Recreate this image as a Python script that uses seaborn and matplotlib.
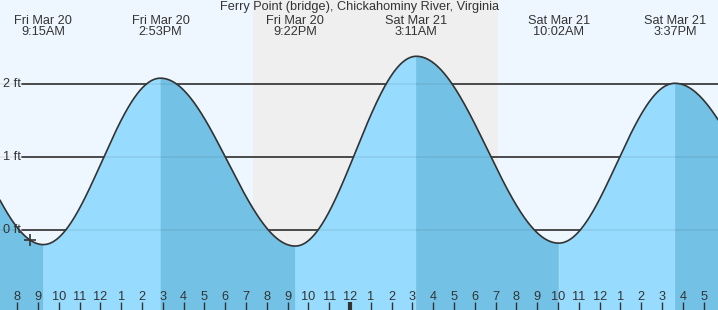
import numpy as np
import pandas as pd
import matplotlib
matplotlib.use("Agg")
import matplotlib.pyplot as plt
import seaborn as sns

# ---- data ----
title = "Ferry Point (bridge), Chickahominy River, Virginia"
# tide extremes, hours since Fri Mar 20 00:00 (first and last are just outside the view, estimated)
extreme_hours = [3.05, 9.25, 14.883, 21.367, 27.183, 34.033, 39.617, 46.2]
extreme_feet = [2.20, -0.20, 2.08, -0.22, 2.38, -0.18, 2.01, -0.20]
label_days = ["Fri Mar 20", "Fri Mar 20", "Fri Mar 20", "Sat Mar 21", "Sat Mar 21", "Sat Mar 21"]
label_times = ["9:15AM", "2:53PM", "9:22PM", "3:11AM", "10:02AM", "3:37PM"]
night_start, night_end = 19.33, 31.1
now_hour = 8.6
y_grid = [0, 1, 2]
y_labels = ["0 ft", "1 ft", "2 ft"]
tick_hours = list(range(8, 42))
tick_labels = [str((h - 1) % 12 + 1) for h in tick_hours]

# ---- tide curve (cosine between extremes) ----
def tide(t):
    t = np.atleast_1d(t).astype(float)
    out = np.empty_like(t)
    for i in range(len(extreme_hours) - 1):
        t0, t1 = extreme_hours[i], extreme_hours[i + 1]
        h0, h1 = extreme_feet[i], extreme_feet[i + 1]
        m = (t >= t0) & (t <= t1)
        f = (t[m] - t0) / (t1 - t0)
        out[m] = h1 + (h0 - h1) * (1 + np.cos(np.pi * f)) / 2
    return out

xmin, xmax = 7.168, 41.69
ymin, ymax = -1.096, 3.151

sns.set_style("white")
plt.rcParams["font.family"] = ["Liberation Sans", "DejaVu Sans"]

fig = plt.figure(figsize=(7.18, 3.10), dpi=100)
ax = fig.add_axes([0, 0, 1, 1])
ax.set_axisbelow(False)
ax.set_facecolor("#eef7ff")
ax.axvspan(night_start, night_end, color="#efefef", zorder=0, lw=0)

for g in y_grid:
    ax.axhline(g, xmin=22 / 718, xmax=1, color="#333333", lw=1.2, zorder=1)

rise_c, fall_c = "#97dcfe", "#73c2e6"
for i in range(len(extreme_hours) - 1):
    t0, t1 = extreme_hours[i], extreme_hours[i + 1]
    tt = np.linspace(t0, t1, 200)
    hh = tide(tt)
    col = rise_c if extreme_feet[i + 1] > extreme_feet[i] else fall_c
    ax.fill_between(tt, hh, ymin - 1, facecolor=col, edgecolor=col, lw=0.4, zorder=2)

for g in y_grid:
    ax.axhline(g, color="#000000", alpha=0.07, lw=1.2, zorder=3)

curve_t = np.linspace(xmin - 0.5, xmax + 0.5, 1500)
df = pd.DataFrame({"hour": curve_t, "feet": tide(curve_t)})
sns.lineplot(data=df, x="hour", y="feet", ax=ax, color="#333333", lw=1.2, zorder=4)

ax.plot([now_hour], tide(now_hour), marker="+", ms=9, mew=1.2, color="#333333", zorder=5)

tc = "#333333"
fs = 9.2
trans = ax.get_xaxis_transform()
ax.text(0.5, 1 - 7 / 310, title, transform=ax.transAxes, ha="center", va="center",
        fontsize=fs, color=tc, zorder=6)
for t, d, s in zip(extreme_hours[1:-1], label_days, label_times):
    ax.text(t, 1 - 20.5 / 310, d, transform=trans, ha="center", va="center", fontsize=fs, color=tc, zorder=6)
    ax.text(t, 1 - 32 / 310, s, transform=trans, ha="center", va="center", fontsize=fs, color=tc, zorder=6)

ytrans = ax.get_yaxis_transform()
for g, lab in zip(y_grid, y_labels):
    ax.text(3 / 718, g, lab, transform=ytrans, ha="left", va="center", fontsize=fs, color=tc, zorder=6)

ax.set_xlim(xmin, xmax)
ax.set_ylim(ymin, ymax)
ax.set_xticks(tick_hours)
ax.set_xticklabels(tick_labels)
ax.set_yticks([])
ax.set_xlabel("")
ax.set_ylabel("")
ax.tick_params(axis="x", direction="in", length=6, width=1, color=tc, labelcolor=tc,
               labelsize=fs, pad=-14, bottom=True)
for tk, h in zip(ax.xaxis.get_major_ticks(), tick_hours):
    if h == 24:
        tk.tick1line.set_markeredgewidth(3)
for sp in ax.spines.values():
    sp.set_visible(False)

fig.savefig("out.png", dpi=100)
